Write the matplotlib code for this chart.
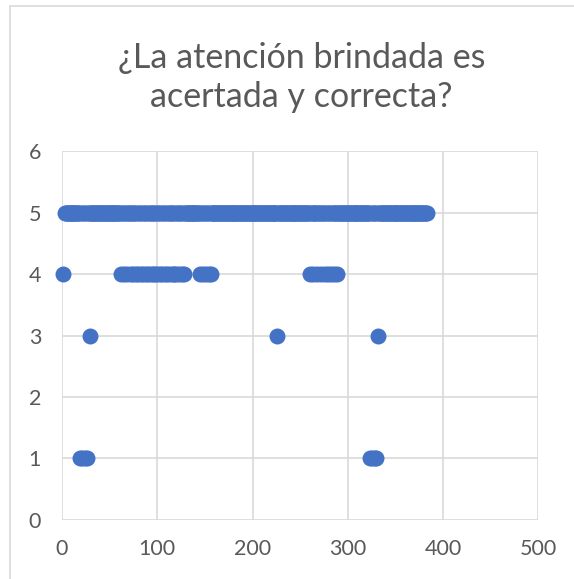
import matplotlib.pyplot as plt
from matplotlib.patches import Rectangle

plt.rcParams['font.family'] = ['Lato', 'DejaVu Sans']

# respuestas: número de encuestado y calificación
n_respuestas = 385
x_4 = [1, 62, 65, 68, 72, 75, 78, 80, 83, 85, 88, 90, 93, 96, 98, 100, 103, 105,
       108, 110, 113, 116, 118, 120, 123, 126, 128, 145, 148, 151, 154, 156,
       260, 263, 268, 272, 276, 279, 282, 285, 289]
x_3 = [29, 226, 332]
x_1 = [19, 21, 24, 26, 323, 325, 328, 330]
otros = set(x_4) | set(x_3) | set(x_1)
x_5 = [i for i in range(3, n_respuestas - 1) if i not in otros]

xs = x_5 + x_4 + x_3 + x_1
ys = [5] * len(x_5) + [4] * len(x_4) + [3] * len(x_3) + [1] * len(x_1)

gris = '#595959'
fig = plt.figure(figsize=(5.74, 5.79), dpi=100)
ax = fig.add_axes([0.108, 0.102, 0.830, 0.637])

ax.plot(xs, ys, 'o', color='#4472C4', markersize=11.5, markeredgewidth=0,
        linestyle='none', zorder=3, clip_on=False)

ax.set_xlim(0, 500)
ax.set_ylim(0, 6)
ax.set_xticks(range(0, 501, 100))
ax.set_yticks(range(0, 7))
ax.grid(True, color='#D9D9D9', linewidth=1.2)
ax.set_axisbelow(True)
for s in ax.spines.values():
    s.set_visible(False)
ax.tick_params(length=0, labelsize=15.5, labelcolor=gris)
ax.tick_params(axis='x', pad=14)
ax.tick_params(axis='y', pad=15)

fig.text(0.525, 0.866, '¿La atención brindada es\nacertada y correcta?',
         ha='center', va='center', fontsize=24.5,
         color=gris, linespacing=1.3)

# marco del gráfico
fig.patches.append(Rectangle((10 / 574, -0.05), 1.0, 1.0 - 6 / 579 + 0.05,
                             transform=fig.transFigure, fill=False,
                             edgecolor='#D9D9D9', linewidth=1.2))

fig.savefig('out.png', dpi=100)
